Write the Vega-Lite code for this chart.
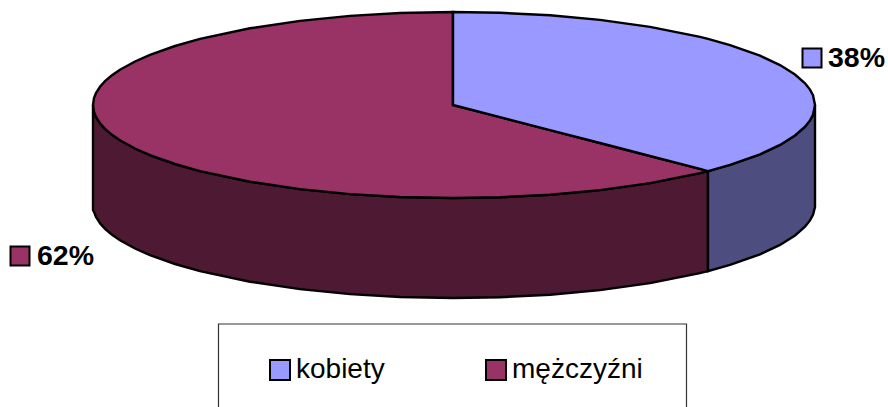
{
"$schema":"https://vega.github.io/schema/vega-lite/v6.json",
"width":888,"height":407,"padding":0,"autosize":{"type":"none"},
"background":"white",
"config":{"view":{"stroke":null}},
"datasets":{
"top":[
{"grupa":"mężczyźni","x":93,"y":105,"y2":105},{"grupa":"mężczyźni","x":94,"y":98.1,"y2":111.9},{"grupa":"mężczyźni","x":96,"y":93,"y2":117},{"grupa":"mężczyźni","x":100,"y":86.8,"y2":123.2},{"grupa":"mężczyźni","x":105,"y":81.2,"y2":128.8},{"grupa":"mężczyźni","x":112,"y":75.2,"y2":134.8},{"grupa":"mężczyźni","x":120,"y":69.7,"y2":140.3},{"grupa":"mężczyźni","x":135,"y":61.5,"y2":148.5},{"grupa":"mężczyźni","x":150,"y":54.8,"y2":155.2},{"grupa":"mężczyźni","x":175,"y":46,"y2":164},{"grupa":"mężczyźni","x":200,"y":38.9,"y2":171.1},{"grupa":"mężczyźni","x":250,"y":28.3,"y2":181.7},{"grupa":"mężczyźni","x":300,"y":20.9,"y2":189.1},{"grupa":"mężczyźni","x":350,"y":15.9,"y2":194.1},{"grupa":"mężczyźni","x":400,"y":13,"y2":197},{"grupa":"mężczyźni","x":453,"y":12,"y2":198},{"grupa":"mężczyźni","x":453.01,"y":105,"y2":198},{"grupa":"mężczyźni","x":500,"y":117.2,"y2":197.2},{"grupa":"mężczyźni","x":550,"y":130.1,"y2":194.7},{"grupa":"mężczyźni","x":600,"y":143,"y2":190.1},{"grupa":"mężczyźni","x":650,"y":156,"y2":183.1},{"grupa":"mężczyźni","x":700,"y":168.9,"y2":173.1},{"grupa":"mężczyźni","x":708,"y":171.1,"y2":171.1},
{"grupa":"kobiety","x":453,"y":12,"y2":105},{"grupa":"kobiety","x":500,"y":12.8,"y2":117.2},{"grupa":"kobiety","x":550,"y":15.3,"y2":130.1},{"grupa":"kobiety","x":600,"y":19.9,"y2":143},{"grupa":"kobiety","x":650,"y":26.9,"y2":156},{"grupa":"kobiety","x":700,"y":36.9,"y2":168.9},{"grupa":"kobiety","x":708,"y":38.9,"y2":171.1},{"grupa":"kobiety","x":730,"y":45.1,"y2":164.9},{"grupa":"kobiety","x":760,"y":55.7,"y2":154.3},{"grupa":"kobiety","x":780,"y":65.1,"y2":144.9},{"grupa":"kobiety","x":795,"y":74.5,"y2":135.5},{"grupa":"kobiety","x":805,"y":83.3,"y2":126.7},{"grupa":"kobiety","x":810,"y":89.6,"y2":120.4},{"grupa":"kobiety","x":813,"y":95.2,"y2":114.8},{"grupa":"kobiety","x":815,"y":105,"y2":105}
],
"sideM":[
{"x":93,"y":105,"y2":210},{"x":94,"y":111.9,"y2":211.9},{"x":96,"y":117,"y2":217},{"x":100,"y":123.2,"y2":223.2},{"x":105,"y":128.8,"y2":228.8},{"x":112,"y":134.8,"y2":234.8},{"x":120,"y":140.3,"y2":240.3},{"x":135,"y":148.5,"y2":248.5},{"x":150,"y":155.2,"y2":255.2},{"x":175,"y":164,"y2":264},{"x":200,"y":171.1,"y2":271.1},{"x":250,"y":181.7,"y2":281.7},{"x":300,"y":189.1,"y2":289.1},{"x":350,"y":194.1,"y2":294.1},{"x":400,"y":197,"y2":297},{"x":453,"y":198,"y2":298},{"x":500,"y":197.2,"y2":297.2},{"x":550,"y":194.7,"y2":294.7},{"x":600,"y":190.1,"y2":290.1},{"x":650,"y":183.1,"y2":283.1},{"x":700,"y":173.1,"y2":273.1},{"x":708,"y":171.1,"y2":271.1}
],
"sideK":[
{"x":708,"y":171.1,"y2":271.1},{"x":730,"y":164.9,"y2":264.9},{"x":760,"y":154.3,"y2":254.3},{"x":780,"y":144.9,"y2":244.9},{"x":795,"y":135.5,"y2":235.5},{"x":805,"y":126.7,"y2":226.7},{"x":810,"y":120.4,"y2":220.4},{"x":813,"y":114.8,"y2":214.8},{"x":815,"y":105,"y2":207}
],
"labels":[
{"grupa":"kobiety","tekst":"38%","x":812,"y":58,"tx":828,"ty":67},
{"grupa":"mężczyźni","tekst":"62%","x":20,"y":256,"tx":37,"ty":265}
],
"frame":[{"x":218.5,"x2":686.5,"y":324,"y2":430}]
},
"layer":[
{"data":{"name":"frame"},"mark":{"type":"rect","fill":"white","stroke":"#333333","strokeWidth":1.2,"clip":true},
 "encoding":{"x":{"field":"x","type":"quantitative","scale":{"domain":[0,888],"nice":false,"zero":false},"axis":null},"x2":{"field":"x2"},"y":{"field":"y","type":"quantitative","scale":{"domain":[407,0],"nice":false,"zero":false},"axis":null},"y2":{"field":"y2"}}},
{"data":{"name":"sideM"},"mark":{"type":"area","fill":"#4D1933","stroke":"black","strokeWidth":2.4,"opacity":1},
 "encoding":{"x":{"field":"x","type":"quantitative"},"y":{"field":"y","type":"quantitative"},"y2":{"field":"y2"}}},
{"data":{"name":"sideK"},"mark":{"type":"area","fill":"#4D4D7F","stroke":"black","strokeWidth":2.4,"opacity":1},
 "encoding":{"x":{"field":"x","type":"quantitative"},"y":{"field":"y","type":"quantitative"},"y2":{"field":"y2"}}},
{"data":{"name":"top"},"mark":{"type":"area","stroke":"black","strokeWidth":2.4,"opacity":1},
 "encoding":{"x":{"field":"x","type":"quantitative"},"y":{"field":"y","type":"quantitative"},"y2":{"field":"y2"},
  "color":{"field":"grupa","type":"nominal","scale":{"domain":["kobiety","mężczyźni"],"range":["#9999FF","#993366"]},
   "legend":{"title":null,"orient":"none","legendX":266,"legendY":356,"columns":2,"columnPadding":97,"symbolType":"square","symbolSize":400,"symbolStrokeColor":"black","symbolStrokeWidth":2,"symbolOpacity":1,"labelFont":"Liberation Sans","labelFontSize":28,"labelColor":"black","labelOffset":2,"padding":0,"labelLimit":300}}}},
{"data":{"name":"labels"},"mark":{"type":"point","shape":"square","size":361,"filled":true,"stroke":"black","strokeWidth":2,"opacity":1},
 "encoding":{"x":{"field":"x","type":"quantitative"},"y":{"field":"y","type":"quantitative"},"fill":{"field":"grupa","type":"nominal","scale":{"domain":["kobiety","mężczyźni"],"range":["#9999FF","#993366"]},"legend":null}}},
{"data":{"name":"labels"},"mark":{"type":"text","align":"left","baseline":"alphabetic","font":"Liberation Sans","fontWeight":"bold","fontSize":28.5,"color":"black"},
 "encoding":{"x":{"field":"tx","type":"quantitative"},"y":{"field":"ty","type":"quantitative"},"text":{"field":"tekst"}}}
]
}
